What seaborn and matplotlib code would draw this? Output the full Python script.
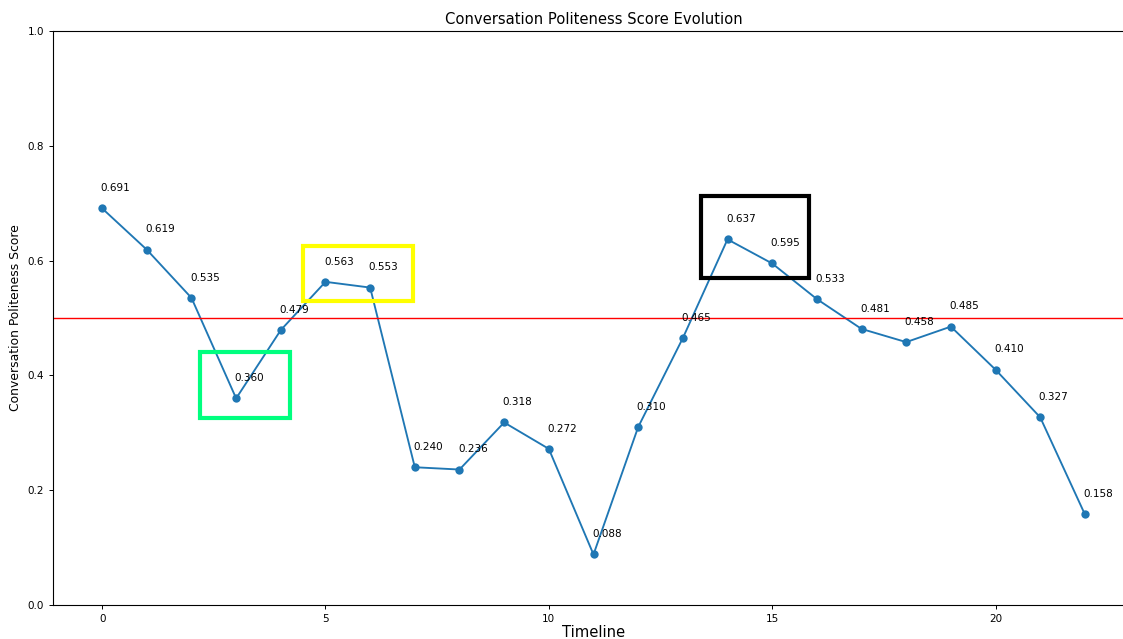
import matplotlib
matplotlib.use("Agg")
import matplotlib.pyplot as plt
from matplotlib.patches import Rectangle
import seaborn as sns
import pandas as pd

timeline = list(range(23))
scores = [0.691, 0.619, 0.535, 0.360, 0.479, 0.563, 0.553, 0.240, 0.236, 0.318,
          0.272, 0.088, 0.310, 0.465, 0.637, 0.595, 0.533, 0.481, 0.458, 0.485,
          0.410, 0.327, 0.158]
threshold = 0.5
# highlight boxes: (x, y, width, height, color)
boxes = [(2.2, 0.325, 2.0, 0.115, "#00ff7f"),
         (4.5, 0.53, 2.45, 0.095, "yellow"),
         (13.4, 0.57, 2.42, 0.142, "black")]

df = pd.DataFrame({"Timeline": timeline, "Score": scores})

fig = plt.figure(figsize=(11.23, 6.39), dpi=100)
ax = fig.add_axes([53 / 1123, 34 / 639, (1134 - 53) / 1123, (605 - 31) / 639])

sns.lineplot(data=df, x="Timeline", y="Score", marker="o", markersize=6,
             markeredgewidth=0, color="#1f77b4", linewidth=1.35, ax=ax)
ax.axhline(threshold, color="red", linewidth=1)

for x, y in zip(timeline, scores):
    ax.text(x - 0.03, y + 0.03, f"{y:.3f}", fontsize=7.5)

for (bx, by, bw, bh, c) in boxes:
    ax.add_patch(Rectangle((bx, by), bw, bh, fill=False, edgecolor=c, linewidth=3, zorder=5))

ax.set_xlim(-1.1, 23.1)
ax.set_ylim(0, 1.0)
ax.tick_params(labelsize=7.5, length=3.1, width=0.7)
for s in ax.spines.values():
    s.set_linewidth(0.8)
ax.set_xlabel("Timeline", fontsize=10.6, labelpad=0.5)
ax.set_ylabel("Conversation Politeness Score", fontsize=8.9, labelpad=4)
ax.set_title("Conversation Politeness Score Evolution", fontsize=10.6, pad=5)

fig.savefig("out.png", dpi=100)
